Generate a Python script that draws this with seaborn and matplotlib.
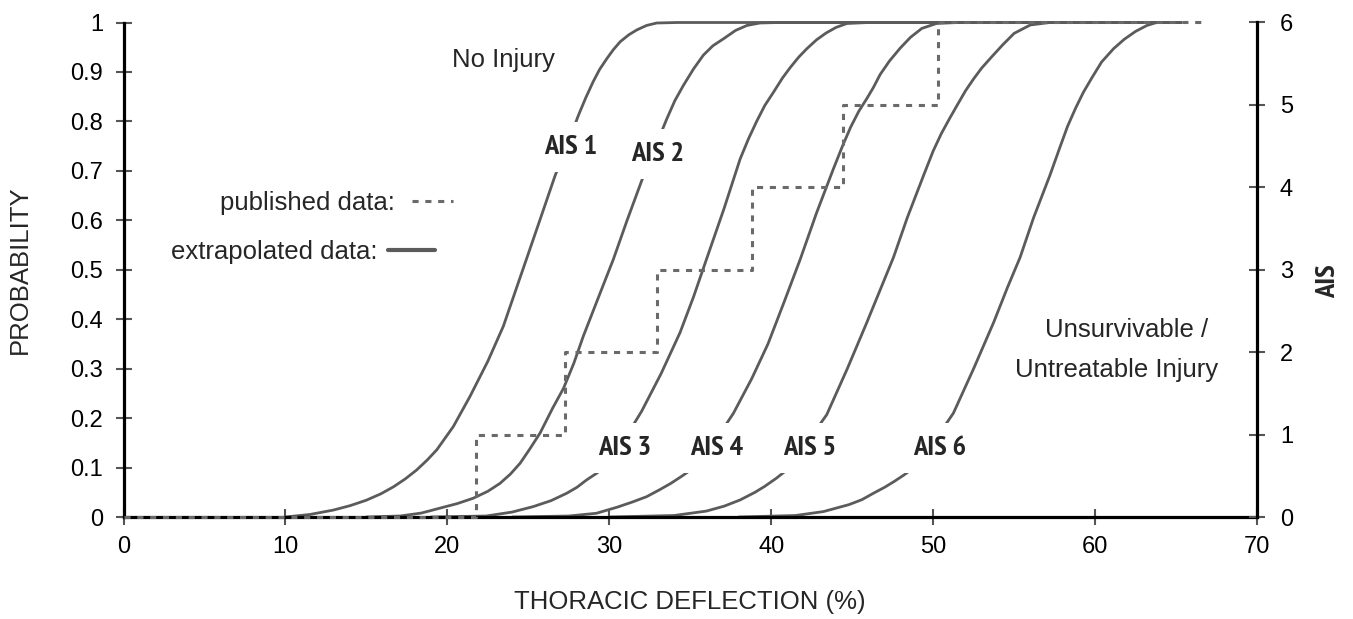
import matplotlib
matplotlib.use("Agg")
import matplotlib.pyplot as plt
from matplotlib import font_manager as fm
from matplotlib.lines import Line2D
import pandas as pd
import seaborn as sns

# Injury risk curves: probability of reaching each AIS level vs. thoracic deflection (%)
ais1_x = [10, 11.5, 12.96, 14.0, 15.0, 15.9, 16.67, 17.4, 18.1, 18.75, 19.35, 20.37, 21.4, 22.5, 23.46, 24.3, 25.1, 25.73,
          26.65, 27.4, 28.09, 28.55, 29.0, 29.4, 29.85, 30.25, 30.67, 31.2, 31.7, 32.3, 32.93, 34.2, 65.3]
ais1_p = [0, 0.005, 0.014, 0.023, 0.034, 0.047, 0.061, 0.077, 0.095, 0.115, 0.136, 0.183, 0.244, 0.315, 0.386, 0.466, 0.542, 0.602,
          0.69, 0.752, 0.812, 0.848, 0.88, 0.905, 0.927, 0.945, 0.961, 0.975, 0.985, 0.994, 0.999, 1.0, 1.0]

ais2_x = [15, 17.08, 18.4, 19.55, 20.6, 21.6, 22.5, 23.25, 23.9, 24.5, 25.1, 25.73, 26.5, 27.17, 27.8, 28.4, 29.4, 30.25,
          31.1, 32.0, 32.8, 33.55, 34.05, 34.58, 35.2, 35.81, 36.4, 37.05, 37.8, 38.5, 39.3, 40.5, 65.3]
ais2_p = [0, 0.002, 0.008, 0.018, 0.027, 0.038, 0.052, 0.068, 0.087, 0.109, 0.138, 0.17, 0.22, 0.26, 0.31, 0.366, 0.45, 0.521,
          0.60, 0.68, 0.745, 0.805, 0.842, 0.873, 0.906, 0.934, 0.953, 0.967, 0.984, 0.994, 0.999, 1.0, 1.0]

ais3_x = [19, 22.4, 24.0, 25.3, 26.4, 27.37, 28.0, 28.6, 29.2, 29.74, 30.9, 32.0, 33.2, 34.37, 35.2, 36.0, 37.1, 38.08,
          38.6, 39.1, 39.6, 40.14, 40.7, 41.2, 41.7, 42.2, 42.8, 43.4, 44.0, 44.67, 46, 65.3]
ais3_p = [0, 0.002, 0.01, 0.021, 0.033, 0.048, 0.06, 0.075, 0.088, 0.102, 0.155, 0.214, 0.29, 0.373, 0.445, 0.521, 0.625, 0.724,
          0.765, 0.80, 0.832, 0.859, 0.888, 0.91, 0.93, 0.947, 0.965, 0.979, 0.99, 0.998, 1.0, 1.0]

ais4_x = [24, 27.5, 29.2, 30.5, 31.4, 32.3, 33.1, 33.8, 34.5, 35.2, 36.5, 37.67, 38.8, 39.8, 40.8, 41.79, 42.8, 43.84,
          44.4, 44.9, 45.4, 45.9, 46.3, 46.73, 47.3, 47.96, 48.6, 49.3, 50.2, 51.5, 65.3]
ais4_p = [0, 0.002, 0.0075, 0.02, 0.03, 0.041, 0.055, 0.068, 0.083, 0.099, 0.152, 0.21, 0.28, 0.35, 0.435, 0.521, 0.615, 0.704,
          0.75, 0.788, 0.82, 0.846, 0.868, 0.895, 0.922, 0.948, 0.97, 0.988, 0.998, 1.0, 1.0]

ais5_x = [30, 34, 36, 37.1, 38.08, 39.0, 39.6, 40.3, 40.96, 42.2, 43.43, 44.7, 45.9, 46.8, 47.55, 48.4, 49.4,
          50.0, 50.5, 51.0, 51.47, 52.0, 52.5, 53.0, 53.6, 54.3, 55.0, 56.0, 57.2, 65.3]
ais5_p = [0, 0.003, 0.012, 0.022, 0.0345, 0.05, 0.062, 0.078, 0.095, 0.15, 0.207, 0.30, 0.393, 0.465, 0.525, 0.605, 0.69,
          0.74, 0.775, 0.805, 0.832, 0.862, 0.886, 0.908, 0.93, 0.955, 0.978, 0.995, 1.0, 1.0]

ais6_x = [38, 41.5, 43.23, 44.8, 45.6, 46.31, 47.0, 47.6, 48.2, 48.78, 50.0, 51.25, 52.5, 53.73, 54.6, 55.37, 56.2, 57.2,
          57.8, 58.3, 58.8, 59.28, 59.8, 60.4, 61.14, 61.8, 62.5, 63.2, 63.8, 65.3]
ais6_p = [0, 0.003, 0.011, 0.025, 0.035, 0.048, 0.06, 0.072, 0.085, 0.099, 0.15, 0.21, 0.30, 0.393, 0.465, 0.525, 0.605, 0.69,
          0.745, 0.79, 0.827, 0.859, 0.888, 0.92, 0.947, 0.966, 0.982, 0.994, 1.0, 1.0]

curve_names = ["AIS 1", "AIS 2", "AIS 3", "AIS 4", "AIS 5", "AIS 6"]

# Published AIS step data (right axis)
published_x = [0, 21.75, 27.27, 32.93, 38.8, 44.46, 50.33, 66.8]
published_ais = [0, 1, 2, 3, 4, 5, 6, 6]

x_ticks = [0, 10, 20, 30, 40, 50, 60, 70]
prob_ticks = [0, 0.1, 0.2, 0.3, 0.4, 0.5, 0.6, 0.7, 0.8, 0.9, 1.0]
prob_tick_labels = ["0", "0.1", "0.2", "0.3", "0.4", "0.5", "0.6", "0.7", "0.8", "0.9", "1"]
ais_ticks = [0, 1, 2, 3, 4, 5, 6]

sns.set_style("white")
plt.rcParams["font.family"] = ["Liberation Sans", "DejaVu Sans"]


def narrow_bold(size):
    """Pick a condensed/narrow bold sans face if one is installed."""
    ranked = []
    for f in fm.fontManager.ttflist:
        if f.style != "normal":
            continue
        w = f.weight if isinstance(f.weight, int) else fm.weight_dict.get(f.weight, 400)
        if not 600 <= w <= 750:
            continue
        stretch = str(f.stretch)
        fname = f.fname.lower()
        if "narrow" in f.name.lower() or "narrow" in fname:
            ranked.append((0, f.fname))
        elif stretch == "condensed" or ("condensed" in fname and "semi" not in fname and "extra" not in fname):
            ranked.append((1, f.fname))
        elif stretch == "semi-condensed" or "semicondensed" in fname:
            ranked.append((2, f.fname))
    if ranked:
        ranked.sort()
        return fm.FontProperties(fname=ranked[0][1], size=size)
    return fm.FontProperties(family="Liberation Sans", weight="bold", size=size - 3)


curves = pd.concat([
    pd.DataFrame({"deflection": xs, "probability": ps, "curve": name})
    for name, xs, ps in zip(
        curve_names,
        [ais1_x, ais2_x, ais3_x, ais4_x, ais5_x, ais6_x],
        [ais1_p, ais2_p, ais3_p, ais4_p, ais5_p, ais6_p],
    )
], ignore_index=True)

W, H = 1353, 619
fig = plt.figure(figsize=(W / 100, H / 100), dpi=100)
left_px, right_px, bottom_px, top_px = 123.5, 1257, 517, 22.5
ax = fig.add_axes([left_px / W, (H - bottom_px) / H,
                   (right_px - left_px) / W, (bottom_px - top_px) / H])

curve_color = "#5b5b5b"
sns.lineplot(data=curves, x="deflection", y="probability", units="curve",
             estimator=None, sort=False, color=curve_color, lw=2.0,
             clip_on=False, ax=ax, zorder=2)

ax2 = ax.twinx()
sns.lineplot(x=published_x, y=published_ais, estimator=None, sort=False,
             drawstyle="steps-post", color="#6a6a6a", lw=2.2,
             linestyle=(0, (2.0, 2.2)), clip_on=False, ax=ax2, zorder=3)

ax.set_xlim(0, 70)
ax.set_ylim(0, 1)
ax2.set_ylim(0, 6)
ax.set_xticks(x_ticks)
ax.set_yticks(prob_ticks)
ax.set_yticklabels(prob_tick_labels)
ax2.set_yticks(ais_ticks)

for a in (ax, ax2):
    for side in ("top", "left", "right", "bottom"):
        a.spines[side].set_visible(False)
ax.spines["left"].set_visible(True)
ax.spines["bottom"].set_visible(True)
ax2.spines["right"].set_visible(True)
for sp in (ax.spines["left"], ax.spines["bottom"], ax2.spines["right"]):
    sp.set_color("black")
    sp.set_linewidth(2.3)
    sp.set_zorder(5)

tick_kw = dict(direction="inout", length=11, width=1.5, color="#555555",
               labelsize=17, labelcolor="black")
ax.tick_params(axis="y", pad=9, left=True, **tick_kw)
ax.tick_params(axis="x", pad=8, bottom=True, **tick_kw)
ax2.tick_params(axis="y", pad=11, right=True, **tick_kw)

ax.set_xlabel("THORACIC DEFLECTION (%)", fontsize=18.5)
ax.xaxis.set_label_coords(0.5, -0.148)
ax.set_ylabel("PROBABILITY", fontsize=18.5)
ax.yaxis.set_label_coords(-0.081, 0.5)

ax2.set_ylabel("AIS", fontproperties=narrow_bold(20.5))
ax2.yaxis.set_label_coords(1.052, 0.477)

# Curve labels sit in gaps cut through each curve
label_pos = {
    "AIS 1": (27.6, 0.734),
    "AIS 2": (32.97, 0.7195),
    "AIS 3": (30.98, 0.1258),
    "AIS 4": (36.64, 0.1258),
    "AIS 5": (42.4, 0.1258),
    "AIS 6": (50.39, 0.1258),
}
for name in curve_names:
    lx, ly = label_pos[name]
    ax.text(lx, ly, name, ha="center", va="baseline", zorder=4,
            fontproperties=narrow_bold(20.5),
            bbox=dict(boxstyle="square,pad=0.45", fc="white", ec="none"))

ax.text(23.47, 0.9108, "No Injury", ha="center", va="baseline", fontsize=18.5)
ax.text(61.92, 0.363, "Unsurvivable /", ha="center", va="baseline", fontsize=18.5)
ax.text(61.33, 0.284, "Untreatable Injury", ha="center", va="baseline", fontsize=18.5)

# Key for the two line types
leg_pub = ax.legend(
    handles=[Line2D([], [], color="#6a6a6a", lw=2.2, linestyle=(0, (2.0, 2.2)))],
    labels=["published data:"], markerfirst=False, frameon=False,
    fontsize=18.5, handlelength=1.6, handletextpad=0.66,
    borderpad=0, borderaxespad=0, loc="center right",
    bbox_to_anchor=(0.2907, 0.635))
ax.add_artist(leg_pub)
ax.legend(
    handles=[Line2D([], [], color="#5b5b5b", lw=3.0)],
    labels=["extrapolated data:"], markerfirst=False, frameon=False,
    fontsize=18.5, handlelength=1.83, handletextpad=0.39,
    borderpad=0, borderaxespad=0, loc="center right",
    bbox_to_anchor=(0.2748, 0.536))

fig.savefig("out.png", dpi=100, facecolor="white")
